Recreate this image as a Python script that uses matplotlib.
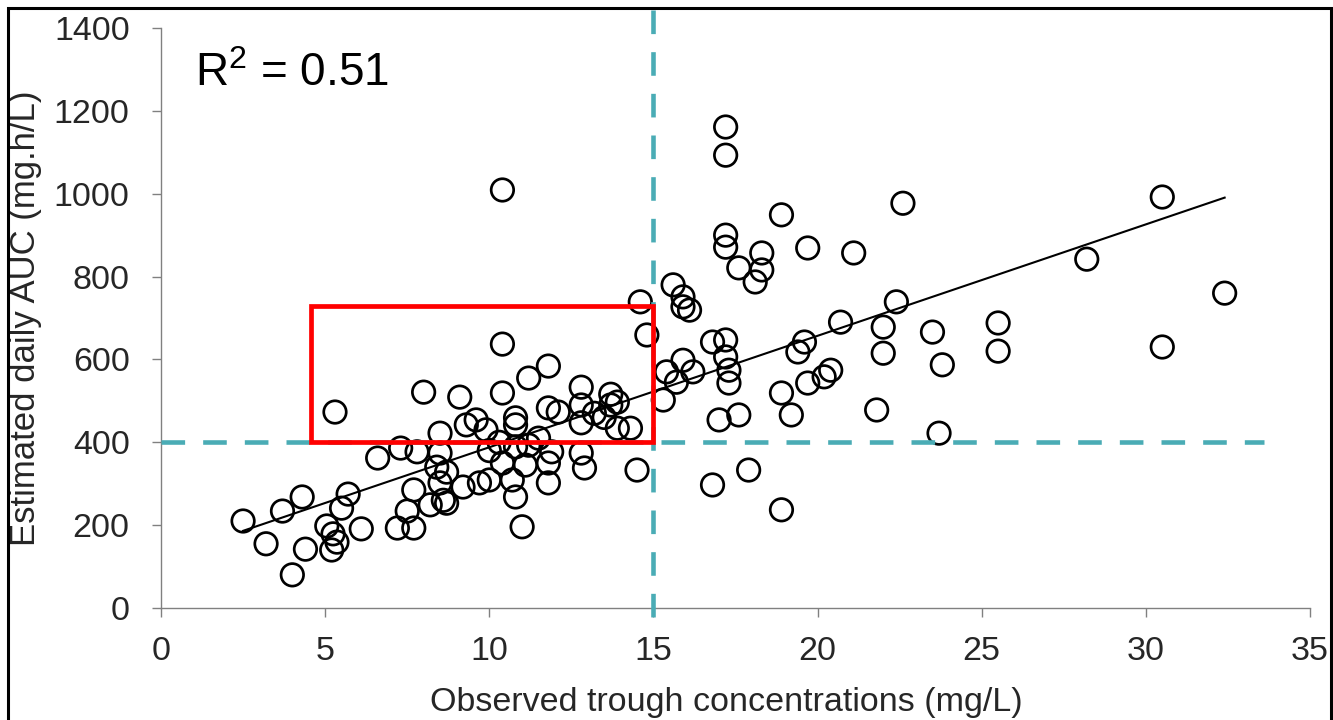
import matplotlib
matplotlib.use("Agg")
import matplotlib.pyplot as plt
from matplotlib.patches import Rectangle
import numpy as np

plt.rcParams['font.family'] = ['Liberation Sans', 'DejaVu Sans']
plt.rcParams['mathtext.fontset'] = 'custom'
plt.rcParams['mathtext.rm'] = 'Liberation Sans'
plt.rcParams['lines.scale_dashes'] = False

# Observed trough concentration (mg/L) vs estimated daily AUC (mg.h/L)
trough = [
    2.5, 3.2, 3.7, 4.3, 4.4, 4.0, 5.05, 5.24, 5.2, 5.36, 5.5, 5.7, 6.1, 5.3, 6.6,
    7.2, 7.7, 7.5, 7.7, 7.3, 7.8, 8.4, 8.5, 8.2, 8.7, 8.7, 8.0, 8.5, 8.5, 9.1, 9.2, 8.6,
    9.3, 9.6, 9.9, 9.7, 10.0, 10.4, 10.4, 10.4, 10.4, 10.7, 10.8, 11.0, 11.1, 10.8,
    10.8, 10.8, 11.2, 11.2, 11.8, 11.8, 12.1, 11.8, 11.8, 11.9, 10.0, 10.3, 11.5,
    12.8, 12.8, 12.8, 12.8, 12.9, 13.7, 13.9, 13.7, 13.9, 14.3, 14.5, 14.6, 14.8, 13.2, 13.5,
    15.3, 15.4, 15.9, 15.7, 16.2, 17.0, 17.6, 17.2, 17.3, 17.3, 18.9, 19.2, 19.7, 20.2,
    20.4, 16.8, 17.9, 18.9, 17.2, 17.2, 18.9, 17.2, 17.2, 18.3, 19.7, 18.3, 17.6, 18.1,
    15.6, 15.9, 15.9, 16.1, 16.8, 17.2, 19.4, 19.6,
    20.7, 21.1, 22.6, 22.0, 22.4, 22.0, 21.8, 23.5, 23.8, 23.7, 25.5, 25.5, 28.2,
    30.5, 30.5, 32.4,
]
auc = [
    210, 155, 234, 268, 142, 80, 198, 179, 140, 159, 241, 275, 191, 473, 362,
    193, 193, 234, 285, 386, 377, 340, 302, 249, 253, 328, 521, 422, 374, 509, 292, 260,
    442, 454, 430, 302, 309, 350, 637, 519, 1009, 309, 268, 196, 345, 459,
    442, 389, 393, 555, 584, 483, 473, 350, 302, 377, 380, 400, 410,
    533, 490, 447, 374, 338, 516, 497, 490, 434, 434, 333, 739, 659, 470, 460,
    502, 570, 598, 545, 570, 454, 466, 606, 574, 543, 519, 466, 543, 558,
    574, 297, 333, 237, 1161, 1093, 949, 900, 871, 857, 869, 816, 821, 787,
    780, 751, 727, 719, 642, 647, 618, 642,
    690, 857, 977, 678, 739, 615, 478, 666, 587, 422, 688, 620, 842,
    992, 630, 760,
]

# Linear regression shown on the chart
fit_slope = 26.9
fit_intercept = 119.0
fit_range = [2.5, 32.4]
r_squared = 0.51

# Target thresholds and the highlighted region
trough_cutoff = 15
auc_cutoff = 400
box_x = [4.57, 15]
box_y = [400, 730]

x_ticks = [0, 5, 10, 15, 20, 25, 30, 35]
y_ticks = [0, 200, 400, 600, 800, 1000, 1200, 1400]

teal = '#4aacb5'
text_color = '#262626'
spine_color = '#808080'

fig = plt.figure(figsize=(13.33, 7.2), dpi=100)
ax = fig.add_axes([161/1333, 1 - 608/720, (1310 - 161)/1333, (608 - 28)/720])

ax.scatter(trough, auc, s=262, facecolors='none', edgecolors='black',
           linewidths=1.95, zorder=3)

xf = np.array(fit_range)
ax.plot(xf, fit_slope * xf + fit_intercept, color='black', lw=1.5, zorder=4)

ax.plot([0, 33.6], [auc_cutoff, auc_cutoff], color=teal, lw=3.3,
        dashes=(17, 13), zorder=5, clip_on=False, dash_capstyle='butt')
ax.plot([trough_cutoff, trough_cutoff], [1443, -29], color=teal, lw=3.3,
        dashes=(17, 13), zorder=5, clip_on=False, dash_capstyle='butt')

ax.add_patch(Rectangle((box_x[0], box_y[0]), box_x[1] - box_x[0], box_y[1] - box_y[0],
                       fill=False, edgecolor='#ff0000', lw=3.4, joinstyle='miter',
                       zorder=6, clip_on=False))

ax.set_xlim(0, 35)
ax.set_ylim(0, 1400)
ax.set_xticks(x_ticks)
ax.set_yticks(y_ticks)
ax.tick_params(axis='both', direction='out', length=6.5, width=1.0,
               color=spine_color, labelsize=24.5, labelcolor=text_color)
ax.tick_params(axis='y', pad=16)
ax.tick_params(axis='x', pad=14)
for side in ('top', 'right'):
    ax.spines[side].set_visible(False)
for side in ('left', 'bottom'):
    ax.spines[side].set_color(spine_color)
    ax.spines[side].set_linewidth(1.0)

ax.set_xlabel('Observed trough concentrations (mg/L)', fontsize=24.5,
              color=text_color)
ax.set_ylabel('Estimated daily AUC (mg.h/L)', fontsize=25, color=text_color)
ax.xaxis.set_label_coords(0.492, -0.136)
ax.yaxis.set_label_coords(-0.104, 0.5)

ax.text(1.04, 1290, r'R$^2$ = ' + f'{r_squared:.2f}', fontsize=33, color='black',
        va='center', ha='left')

# Frame around the whole figure
fig.add_artist(Rectangle((8/1333, -0.02), (1331 - 8)/1333, 1 - 8/720 + 0.02,
                         transform=fig.transFigure, fill=False,
                         edgecolor='black', lw=2.2))

fig.savefig('out.png', dpi=100)
